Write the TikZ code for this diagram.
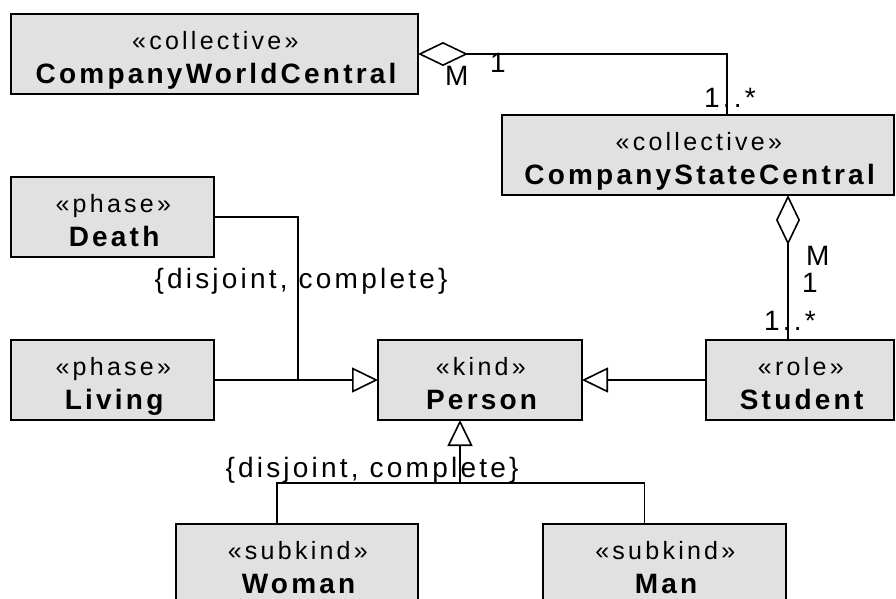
\documentclass[tikz,border=0pt]{standalone}
\usepackage{fontspec}
\setmainfont{Liberation Sans}
\newfontfamily\stereofont[LetterSpace=13]{Liberation Sans}
\newfontfamily\namefont[LetterSpace=11.5]{Liberation Sans}
\usetikzlibrary{arrows.meta,calc}
\definecolor{boxfill}{RGB}{225,225,225}

\tikzset{
  classbox/.style={draw=black, fill=boxfill, line width=1.6pt, rectangle,
    inner sep=0pt, outer sep=0pt, minimum height=80pt},
  stereo/.style={anchor=base, inner sep=0pt,
    font=\stereofont\fontsize{25}{30}\selectfont},
  cname/.style={anchor=base, inner sep=0pt,
    font=\namefont\bfseries\fontsize{28}{34}\selectfont},
  lbl/.style={anchor=base west, inner sep=0pt,
    font=\namefont\fontsize{28}{34}\selectfont},
  cstr/.style={anchor=base, inner sep=0pt,
    font=\namefont\fontsize{28}{34}\selectfont},
  conn/.style={line width=1.6pt},
  gen/.style={conn, -{Triangle[open, length=26pt, width=25pt]}},
  aggr/.style={conn, {Diamond[open, length=50pt, width=24pt]}-},
}

% #1 node name, #2/#3 top-left corner, #4 width, #5 stereotype, #6 class name
\newcommand\umlclass[6]{%
  \node[classbox, minimum width=#4pt, anchor=north west] (#1) at (#2,#3) {};
  \node[stereo] (#1-st) at ($(#1.north)+(0.8,35)$) {«#5»};
  \node[cname] (#1-nm) at ($(#1.north)+(1.6,69)$) {#6};
}

\begin{document}
\begin{tikzpicture}[x=1pt, y=-1pt]
  \useasboundingbox (0,0) rectangle (896,598);
  \clip (0,0) rectangle (896,598);

  % classes
  \umlclass{cwc}{11}{14}{407}{collective}{CompanyWorldCentral}
  \umlclass{csc}{502}{115}{392}{collective}{CompanyStateCentral}
  \umlclass{death}{11}{177}{203}{phase}{Death}
  \umlclass{living}{11}{340}{203}{phase}{Living}
  \umlclass{person}{378}{340}{204}{kind}{Person}
  \umlclass{student}{706}{340}{188}{role}{Student}
  \umlclass{woman}{176}{524}{242}{subkind}{Woman}
  \umlclass{man}{543}{524}{243}{subkind}{Man}

  % member-of aggregations
  \draw[aggr] (cwc.east) -| ([xshift=29pt]csc.north);
  \draw[aggr] ([xshift=90pt]csc.south) -- ([xshift=-12pt]student.north);

  \node[lbl] (m1) at (445,85) {M};
  \node[lbl] (o1) at (490,72) {1};
  \node[lbl] (r1) at (704,107) {1..*};
  \node[lbl] (m2) at (806,265) {M};
  \node[lbl] (o2) at (802,292) {1};
  \node[lbl] (r2) at (764,330) {1..*};

  % phase partition of Person
  \coordinate (jphase) at (298,380);
  \draw[conn] (death.east) -| (jphase);
  \draw[gen] (living.east) -- (person.west);
  \node[cstr] (c1) at (301,288) {\{disjoint, complete\}};

  % role specialisation
  \draw[gen] (student.west) -- (person.east);

  % subkind partition of Person
  \coordinate (jsub) at (460,483);
  \draw[gen] (jsub) -- ([xshift=-20pt]person.south);
  \draw[conn] ([xshift=-20pt]woman.north) |- (jsub) -| ([xshift=-20pt]man.north);
  \node[cstr] (c2) at (372,477) {\{disjoint, complete\}};
\end{tikzpicture}
\end{document}
